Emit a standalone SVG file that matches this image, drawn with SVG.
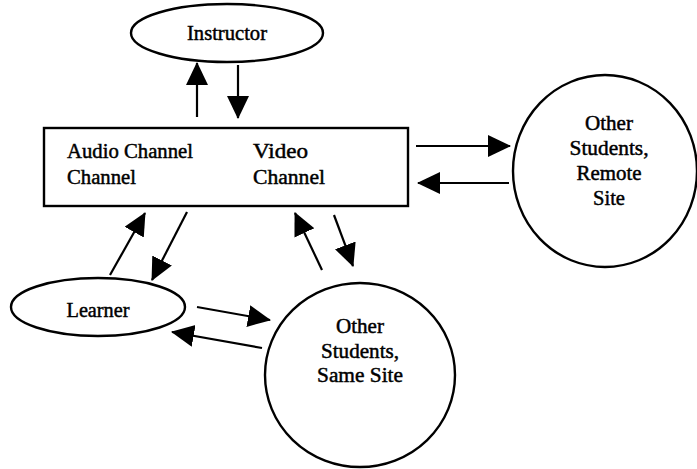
<svg xmlns="http://www.w3.org/2000/svg" width="697" height="469" viewBox="0 0 697 469">
  <style>
    .shape { fill: #ffffff; stroke: #000000; stroke-width: 2.4; }
    .label { font-family: "Liberation Serif", "Times New Roman", serif; font-size: 20px; fill: #000000; stroke: #000000; stroke-width: 0.45; }
    .mid { text-anchor: middle; }
    .link { stroke: #000000; stroke-width: 2.2; fill: none; marker-end: url(#head); }
  </style>
  <defs>
    <marker id="head" markerUnits="userSpaceOnUse" markerWidth="24" markerHeight="24" refX="22" refY="11" orient="auto">
      <path d="M0,0 L23,11 L0,22 Z" fill="#000000"/>
    </marker>
  </defs>
  <rect width="697" height="469" fill="#ffffff"/>

  <!-- nodes -->
  <g id="instructor">
    <ellipse class="shape" cx="227" cy="33" rx="96" ry="29"/>
    <text class="label mid" x="227" y="40" textLength="80" lengthAdjust="spacingAndGlyphs">Instructor</text>
  </g>

  <g id="channels">
    <rect class="shape" x="44" y="128" width="364" height="78"/>
    <text class="label" x="67" y="158" textLength="126" lengthAdjust="spacingAndGlyphs">Audio Channel</text>
    <text class="label" x="67" y="184" textLength="69" lengthAdjust="spacingAndGlyphs">Channel</text>
    <text class="label" x="253" y="158" textLength="55" lengthAdjust="spacingAndGlyphs">Video</text>
    <text class="label" x="253" y="184" textLength="72" lengthAdjust="spacingAndGlyphs">Channel</text>
  </g>

  <g id="remote-students">
    <ellipse class="shape" cx="605" cy="171" rx="92" ry="96"/>
    <text class="label mid" x="609" y="130" textLength="48" lengthAdjust="spacingAndGlyphs">Other</text>
    <text class="label mid" x="609" y="155" textLength="79" lengthAdjust="spacingAndGlyphs">Students,</text>
    <text class="label mid" x="609" y="180" textLength="65" lengthAdjust="spacingAndGlyphs">Remote</text>
    <text class="label mid" x="609" y="205" textLength="32" lengthAdjust="spacingAndGlyphs">Site</text>
  </g>

  <g id="learner">
    <ellipse class="shape" cx="98" cy="307" rx="87" ry="29"/>
    <text class="label mid" x="98" y="317" textLength="63" lengthAdjust="spacingAndGlyphs">Learner</text>
  </g>

  <g id="same-site-students">
    <ellipse class="shape" cx="360" cy="375" rx="95" ry="92"/>
    <text class="label mid" x="360" y="333" textLength="48" lengthAdjust="spacingAndGlyphs">Other</text>
    <text class="label mid" x="360" y="358" textLength="78" lengthAdjust="spacingAndGlyphs">Students,</text>
    <text class="label mid" x="360" y="382" textLength="86" lengthAdjust="spacingAndGlyphs">Same Site</text>
  </g>

  <!-- connectors -->
  <g id="connectors">
    <line class="link" x1="197" y1="117" x2="197" y2="63"/>
    <line class="link" x1="238" y1="65" x2="238" y2="118"/>
    <line class="link" x1="416" y1="146" x2="510" y2="146"/>
    <line class="link" x1="509" y1="183" x2="418" y2="183"/>
    <line class="link" x1="110" y1="275" x2="145" y2="213"/>
    <line class="link" x1="187" y1="212" x2="152" y2="280"/>
    <line class="link" x1="322" y1="270" x2="295" y2="213"/>
    <line class="link" x1="334" y1="215" x2="353" y2="266"/>
    <line class="link" x1="197" y1="307" x2="270" y2="320"/>
    <line class="link" x1="262" y1="348" x2="172" y2="332"/>
  </g>
</svg>
